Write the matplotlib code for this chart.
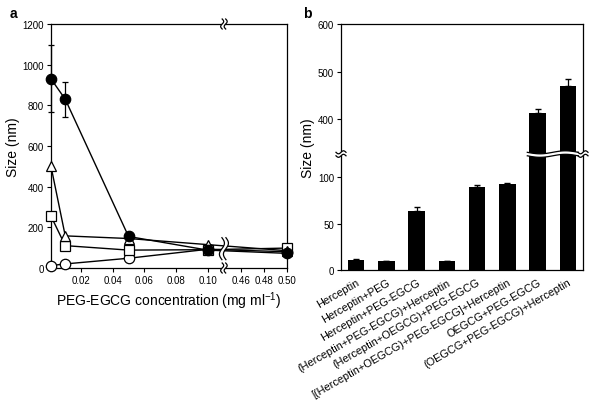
import numpy as np
import matplotlib
matplotlib.use('Agg')
import matplotlib.pyplot as plt
from matplotlib.patches import Polygon

plt.rcParams['font.family'] = ['Liberation Sans', 'DejaVu Sans']
plt.rcParams['mathtext.fontset'] = 'custom'
plt.rcParams['mathtext.rm'] = 'Liberation Sans'

### panel a data (x in mg/ml, size in nm)
conc = [0.001, 0.01, 0.05, 0.10, 0.50]
size_filled_circle = [930, 830, 155, 88, 72]
err_filled_circle = [165, 85, 0, 0, 0]
size_triangle = [500, 158, 145, 115, 85]
size_square = [255, 110, 88, 90, 98]
size_open_circle = [12, 20, 48, 92, 80]

xticks_a = [0.02, 0.04, 0.06, 0.08, 0.10, 0.46, 0.48, 0.50]
xticklabels_a = ['0.02', '0.04', '0.06', '0.08', '0.10', '0.46', '0.48', '0.50']
yticks_a = [0, 200, 400, 600, 800, 1000, 1200]

### panel b data
groups = ['Herceptin', 'Herceptin+PEG', 'Herceptin+PEG-EGCG',
          '(Herceptin+PEG-EGCG)+Herceptin', '(Herceptin+OEGCG)+PEG-EGCG',
          '[(Herceptin+OEGCG)+PEG-EGCG]+Herceptin', 'OEGCG+PEG-EGCG',
          '(OEGCG+PEG-EGCG)+Herceptin']
sizes_b = [11, 10, 64, 10, 90, 93, 413, 471]
errs_b = [0.5, 0, 4, 0, 1.5, 0.8, 9, 14]
yticks_b = [0, 50, 100, 400, 500, 600]


def piecewise(xs, ys):
    # broken axis scale made of linear pieces
    return (lambda v: np.interp(v, xs, ys), lambda u: np.interp(u, ys, xs))


def wave(ax, x0, y0, length, amp, vertical, gap, fill=True):
    ### draw a double wavy break mark centred at (x0,y0) in pixels of the axes
    bb = ax.get_window_extent()
    t = np.linspace(-0.5, 0.5, 40)
    w = amp * np.sin(2 * np.pi * t)
    curves = []
    for off in (-gap / 2, gap / 2):
        if vertical:
            px = x0 + w + off
            py = y0 + t * length
        else:
            px = x0 + t * length
            py = y0 + w + off
        curves.append(np.column_stack([px / bb.width, py / bb.height]))
    if fill:
        poly = np.vstack([curves[0], curves[1][::-1]])
        ax.add_patch(Polygon(poly, closed=True, facecolor='white', edgecolor='none',
                             transform=ax.transAxes, clip_on=False, zorder=5))
    for c in curves:
        ax.plot(c[:, 0], c[:, 1], color='black', lw=0.9, transform=ax.transAxes,
                clip_on=False, zorder=6)


fig = plt.figure(figsize=(6, 4.1), dpi=100)

### panel a
axa = fig.add_axes([51/600, 1-269/410, 236/600, 244/410])
b1, b2, g, k = 0.11, 0.445, 0.0005, 0.72
fwd, inv = piecewise([-1, b1, b2, 2], [-1, b1, b1+g, b1+g+(2-b2)*k])
axa.set_xscale('function', functions=(fwd, inv))
mk = dict(color='black', lw=1, markersize=7.5, markeredgewidth=0.9, clip_on=False)
axa.plot(conc, size_open_circle, marker='o', mfc='white', **mk, zorder=3)
axa.plot(conc, size_square, marker='s', mfc='white', **mk, zorder=3)
axa.plot(conc, size_triangle, marker='^', mfc='white', **mk, zorder=3)
eb = axa.errorbar(conc, size_filled_circle, yerr=err_filled_circle, marker='o', mfc='black',
                  capsize=2.5, elinewidth=0.9, **mk, zorder=4)
for art in eb.lines[1] + eb.lines[2]:
    art.set_clip_on(False)
axa.set_xlim(0.001, 0.50)
axa.set_ylim(0, 1200)
axa.set_xticks(xticks_a)
axa.set_xticklabels(xticklabels_a)
axa.set_yticks(yticks_a)
axa.tick_params(labelsize=7, length=3, width=0.8, direction='out', pad=2)
axa.set_ylabel('Size (nm)', fontsize=10, labelpad=2)
axa.set_xlabel('PEG-EGCG concentration (mg ml$^{\\mathregular{-1}}$)', fontsize=10, labelpad=3)
for s in axa.spines.values():
    s.set_linewidth(0.9)
fig.text(10/600, 1-14/410, 'a', fontsize=10, fontweight='bold', va='center')

### panel b
axb = fig.add_axes([341/600, 1-271/410, 242/600, 246/410])
fb, ib = piecewise([-10, 125, 350, 700], [-10, 125, 137, 137+350*0.5156])
axb.set_yscale('function', functions=(fb, ib))
xpos = np.arange(len(groups))
axb.bar(xpos, sizes_b, width=0.55, color='black', zorder=2)
axb.errorbar(xpos, sizes_b, yerr=[np.zeros(len(errs_b)), errs_b], fmt='none',
             ecolor='black', elinewidth=0.9, capsize=2.5, zorder=3)
axb.set_xlim(-0.5, len(groups)-0.5)
axb.set_ylim(0, 600)
axb.set_yticks(yticks_b)
axb.set_xticks(xpos)
axb.set_xticklabels(groups, rotation=30, ha='right', rotation_mode='anchor')
axb.tick_params(axis='y', labelsize=7, length=3, width=0.8, direction='out', pad=2)
axb.tick_params(axis='x', labelsize=7.9, length=0, pad=5)
axb.set_ylabel('Size (nm)', fontsize=10, labelpad=2)
for s in axb.spines.values():
    s.set_linewidth(0.9)
fig.text(303/600, 1-14/410, 'b', fontsize=10, fontweight='bold', va='center')

fig.canvas.draw()

### break marks panel a
bba = axa.get_window_extent()
xb = axa.transData.transform((0.2775, 0))[0] - bba.x0
wave(axa, xb, bba.height, 10, 1.5, True, 3.5)
wave(axa, xb, 0, 10, 1.5, True, 3.5)
yb = axa.transData.transform((0.2775, 95))[1] - bba.y0
wave(axa, xb, yb, 22, 2.5, True, 4)

### break marks panel b
bbb = axb.get_window_extent()
yb2 = axb.transData.transform((0, 131))[1] - bbb.y0
wave(axb, 0, yb2, 10, 1.5, False, 3.5)
wave(axb, bbb.width, yb2, 10, 1.5, False, 3.5)
x6 = axb.transData.transform((6 - 0.275, 0))[0] - bbb.x0
x7 = axb.transData.transform((7 + 0.275, 0))[0] - bbb.x0
wave(axb, (x6 + x7) / 2, yb2, (x7 - x6) + 4, 1.5, False, 3.5)

fig.savefig('out.png', dpi=100)
